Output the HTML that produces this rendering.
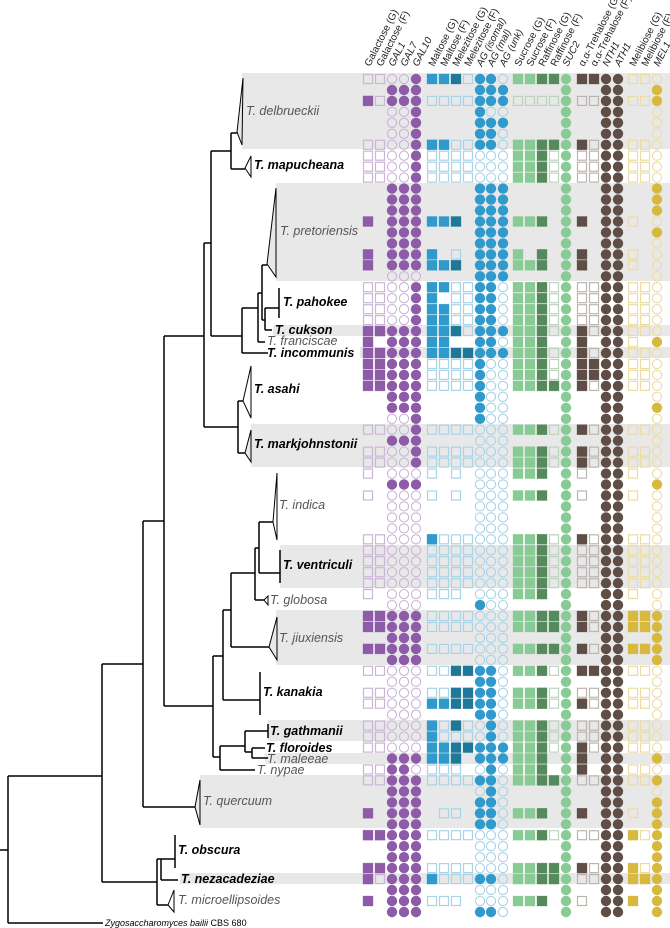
<!DOCTYPE html>
<html><head><meta charset="utf-8">
<style>
html,body{margin:0;padding:0;background:#fff;}
svg{display:block;font-family:"Liberation Sans",sans-serif;}
.b{font-weight:bold;font-style:italic;fill:#000;font-size:12.5px}
.g{font-style:italic;fill:#555;font-size:12.5px}
.h{font-size:10px;fill:#222}
</style></head>
<body>
<svg id="s" width="670" height="928" viewBox="0 0 670 928" xmlns="http://www.w3.org/2000/svg">
<g fill="#e8e8e8">
<rect x="242" y="73" width="428" height="76"/>
<rect x="276" y="183" width="394" height="98"/>
<rect x="273" y="325" width="397" height="11"/>
<rect x="360" y="347" width="310" height="11"/>
<rect x="251" y="424" width="419" height="43"/>
<rect x="280" y="545" width="390" height="43"/>
<rect x="276" y="610" width="394" height="55"/>
<rect x="268" y="720" width="402" height="21"/>
<rect x="265" y="753" width="405" height="11"/>
<rect x="200" y="775" width="470" height="53"/>
<rect x="180" y="873" width="490" height="11"/>
</g>
<g stroke="#000" stroke-width="1.5" fill="none">
<!-- root -->
<path d="M0 850H8M8 776V923M8 923H103M8 776H102"/>
<path d="M102 664V882M102 664H143M102 882H157"/>
<path d="M143 521V807M143 521H164M143 807H195"/>
<path d="M164 336V706M164 336H204M164 706H213"/>
<path d="M204 243V427M204 243H211M204 427H238"/>
<path d="M211 151V336M211 151H231M211 336H242"/>
<path d="M231 133V169M231 133H237M231 169H245"/>
<path d="M242 308V353M242 353H268M242 308H258"/>
<path d="M258 293V342M258 342H265M258 293H262"/>
<path d="M262 265V320M262 265H267M262 320H265"/>
<path d="M265 308V330M265 308H279M265 330H272"/>
<path d="M279 288V318"/>
<path d="M238 401V453M238 401H243M238 453H245"/>
<path d="M213 656V757M213 656H223M213 757H220"/>
<path d="M223 610V700M223 610H231M223 700H260M260 672V715"/>
<path d="M231 573V647M231 573H255M231 647H269"/>
<path d="M255 548V600M255 548H259M255 600H264"/>
<path d="M259 522V573M259 522H273M259 573H280M280 550V583"/>
<path d="M220 746V770M220 746H245M220 770H255"/>
<path d="M245 731V752M245 731H268M268 724V738M245 752H252"/>
<path d="M252 748V758M252 748H265M252 758H268"/>
<path d="M157 859V905M157 859H161M161 859V880M161 859H175M175 835V868M161 880H178M157 905H168"/>
</g>
<g stroke="#000" stroke-width="1" fill="#fff">
<path d="M237 132L243 78L242 145Z" fill="#e8e8e8"/>
<path d="M245 168L251 156L251 177Z"/>
<path d="M267 264L276 188L276 277Z" fill="#e8e8e8"/>
<path d="M243 401L251 366L251 418Z"/>
<path d="M245 453L251 430L251 462Z" fill="#e8e8e8"/>
<path d="M273 522L277 473L277 540Z"/>
<path d="M264 600L268 596L268 605Z"/>
<path d="M269 647L277 617L277 660Z" fill="#e8e8e8"/>
<path d="M195 807L200 780L200 825Z" fill="#e8e8e8"/>
<path d="M168 905L174 890L174 912Z"/>
</g>
<g>
<text class="g" x="246" y="115">T. delbrueckii</text>
<text class="b" x="254" y="169">T. mapucheana</text>
<text class="g" x="280" y="235">T. pretoriensis</text>
<text class="b" x="283" y="306">T. pahokee</text>
<text class="b" x="275" y="334">T. cukson</text>
<text class="g" x="267" y="345">T. franciscae</text>
<text class="b" x="267" y="357">T. incommunis</text>
<text class="b" x="254" y="393">T. asahi</text>
<text class="b" x="254" y="448">T. markjohnstonii</text>
<text class="g" x="279" y="509">T. indica</text>
<text class="b" x="283" y="569">T. ventriculi</text>
<text class="g" x="270" y="604">T. globosa</text>
<text class="g" x="279" y="642">T. jiuxiensis</text>
<text class="b" x="263" y="696">T. kanakia</text>
<text class="b" x="270" y="735">T. gathmanii</text>
<text class="b" x="266" y="752">T. floroides</text>
<text class="g" x="267" y="763">T. maleeae</text>
<text class="g" x="257" y="774">T. nypae</text>
<text class="g" x="203" y="805">T. quercuum</text>
<text class="b" x="178" y="854">T. obscura</text>
<text class="b" x="181" y="883">T. nezacadeziae</text>
<text class="g" x="178" y="904">T. microellipsoides</text>
<text x="105" y="926" style="font-size:9px;fill:#000"><tspan font-style="italic">Zygosaccharomyces bailii</tspan> CBS 680</text>
</g>
<g id="hdr"></g>
<g id="cells"></g>
</svg>
<script>
var xs=[368,380,392,404,416,432,444,456,468,480,491,503,518,530,542,554,566,582,594,606,618,633,645,657];
var names=["Galactose (G)","Galactose (F)","GAL1","GAL7","GAL10","Maltose (G)","Maltose (F)","Melezitose (G)","Melezitose (F)","AG (isomal)","AG (mal)","AG (unk)","Sucrose (G)","Sucrose (F)","Raffinose (G)","Raffinose (F)","SUC2","\u03b1,\u03b1-Trehalose (G)","\u03b1,\u03b1-Trehalose (F)","NTH1","ATH1","Melibiose (G)","Melibiose (F)","MEL1"];
var ital=[0,0,1,1,1,0,0,0,0,1,1,1,0,0,0,0,1,0,0,1,1,0,0,1];
var shp="ssccc"+"sssscc c".replace(/ /g,"")+"ssssc"+"sscc"+"ssc";
shp="ssccc"+"ssssccc"+"ssssc"+"sscc"+"ssc";
var P=["#8d5ba7","#cbb5d8"],B=["#2f9acb","#a9d3e7"],DB=["#1f7898","#a9d3e7"],LG=["#88cb94","#bcd4bf"],DG=["#548a5c","#bcd4bf"],BR=["#5f4e46","#bcb4af"],GO=["#d8b940","#ecdca2"];
var col=[P,P,P,P,P,B,B,DB,DB,B,B,B,LG,LG,DG,DG,LG,BR,BR,BR,BR,GO,GO,GO];
var rows=[
"oooox|xxxoxxo|xxxxx|xxxx|ooo","..xxx|....xxx|....x|..xx|..x","xoxxx|ooooxxx|oooox|ooxx|oox","..oox|....xoo|....x|..xx|..o","..oox|....xxx|....x|..xx|..o","..oox|....xxo|....x|..xx|..o",
"oooox|xxooxxo|xxxxx|xoxx|ooo","oooox|ooooooo|xxxox|ooxx|ooo","oooox|ooooooo|xxxox|ooxx|ooo","oooox|ooooooo|xxxox|ooxx|ooo",
"..xxx|....xxx|....x|..xx|..x","..xxx|....xxx|....x|..xx|..x","..xxx|....xxx|....x|..xx|..x","x.xxx|xxx.xxx|xxx.x|x.xx|o.o","..xxx|....xxx|....x|..xx|..x","..xxx|....xxx|....x|..xx|..o","x.xxx|x.o.xxx|x.x.x|x.xx|o.o","x.xxx|xxx.xxx|xxx.x|x.xx|o.o",
"..ooo|....xxx|....x|..xx|..o","oooox|xxooxxo|xxxox|ooxx|ooo","oooox|x.ooxxo|xxxox|ooxx|ooo","oooox|xxooxxo|xxxox|ooxx|ooo","oooox|xxooxxo|xxxox|ooxx|ooo",
"xxxxx|xxxoxxx|xxxox|xoxx|ooo","x.xxx|xx..xxo|xxx.x|x.xx|o.x","xxxxx|xxxxxxx|xxxox|xoxx|ooo","xxxxx|ooooxoo|xxxox|xxxx|ooo","xxxxx|ooooxoo|xxxox|xxxx|ooo","xxxxx|ooooxoo|xxxxx|xoxx|ooo",
"..xxx|....xoo|....x|..xx|..o","..xxx|....xoo|....x|..xx|..x","..oox|....xoo|....x|..xx|..o","oooox|ooooooo|xxxox|xoxx|ooo","..xxx|....ooo|....x|..xx|..o","oooox|ooooooo|xxxox|xoxx|ooo","oooox|ooooooo|xxxox|xoxx|ooo",
"o.ooo|o.o.ooo|xxx.x|o.xx|o.o","..xxx|....ooo|....x|..xx|..x","o.ooo|o.o.ooo|xxx.x|o.xx|o.o","..ooo|....ooo|....x|..xx|..o","..ooo|....ooo|....x|..xx|..o","..ooo|....ooo|....x|..xx|..o",
"ooooo|xoooooo|xxxox|xoxx|ooo","ooooo|ooooooo|xxxox|ooxx|ooo","ooooo|ooooooo|xxxox|ooxx|ooo","ooooo|ooooooo|xxxox|ooxx|ooo","ooooo|ooooooo|xxxox|ooxx|ooo","o.ooo|ooo.ooo|xxx.x|..xx|o.o","..ooo|....xoo|....x|..xx|..o",
"xxxxx|ooooooo|xxxxx|xoxx|xxx","xxxxx|ooooooo|xxxxx|xoxx|xxx","..xxx|....ooo|....x|..xx|..x","xxxxx|ooooooo|xxxxx|xoxx|xxx","..xxx|....ooo|....x|..xx|..x",
"ooooo|ooxxxxo|xxxox|xxxx|ooo","..ooo|....xxo|....x|..xx|..o","ooooo|ooxxxxo|xxxox|ooxx|ooo","ooooo|xxxxxxo|xxxox|xoxx|ooo","..ooo|....xxo|....x|..xx|..o",
"ooooo|xoxooxo|xxxox|ooxx|ooo","ooooo|xooooxo|xxxox|ooxx|ooo","ooooo|xxxxxxx|xxxox|xoxx|ooo","..xxx|xxx.xxx|xxx.x|x.xx|..x","ooxxo|ooo.oxo|xxx.x|x.xx|ooo","ooxxx|ooooxxo|xxxxx|ooxx|oox",
"..xxx|....oxo|....x|..xx|..o","..xxx|....xxo|....x|..xx|..x","x.xxx|.oo.xxo|xxx.x|x.xx|o.x","..xxx|....xxo|....x|..xx|..x",
"xxxxx|ooooooo|xxxox|ooxx|xox","..xxx|....ooo|....x|..xx|..x","..xxx|....ooo|....x|..xx|..x","xxxxx|ooooooo|xxxxx|xoxx|xox","xoxxx|xoooxxo|xxxxx|ooxx|xxx",
"..xxx|....ooo|....x|..xx|..x","x.xxx|ooo.ooo|xxx.x|o.xx|x.x","..xxx|....xxo|....x|..xx|..x"];
var h="",NS="";
for(var i=0;i<rows.length;i++){
 var r=rows[i].replace(/\|/g,""),y=79+i*10.96;
 for(var j=0;j<24;j++){
  var c=r[j];if(c=="."||!c)continue;
  var x=xs[j],cc=col[j];
  if(shp[j]=="s"){
   if(c=="x")h+='<rect x="'+(x-5)+'" y="'+(y-5).toFixed(1)+'" width="10" height="10" fill="'+cc[0]+'" stroke="'+cc[0]+'" stroke-width="0.6" stroke-opacity="0.5"/>';
   else h+='<rect x="'+(x-4.5)+'" y="'+(y-4.5).toFixed(1)+'" width="9" height="9" fill="none" stroke="'+cc[1]+'" stroke-width="1.2"/>';
  }else{
   if(c=="x")h+='<circle cx="'+x+'" cy="'+y.toFixed(1)+'" r="5.2" fill="'+cc[0]+'"/>';
   else h+='<circle cx="'+x+'" cy="'+y.toFixed(1)+'" r="4.6" fill="none" stroke="'+cc[1]+'" stroke-width="1.1"/>';
  }
 }
}
document.getElementById("cells").innerHTML=h;
var t="";
for(var j=0;j<24;j++){
 t+='<text class="h" transform="translate('+(xs[j]+2)+',67) rotate(-63)"'+(ital[j]?' font-style="italic"':'')+'>'+names[j]+'</text>';
}
document.getElementById("hdr").innerHTML=t;
</script>
</body></html>
